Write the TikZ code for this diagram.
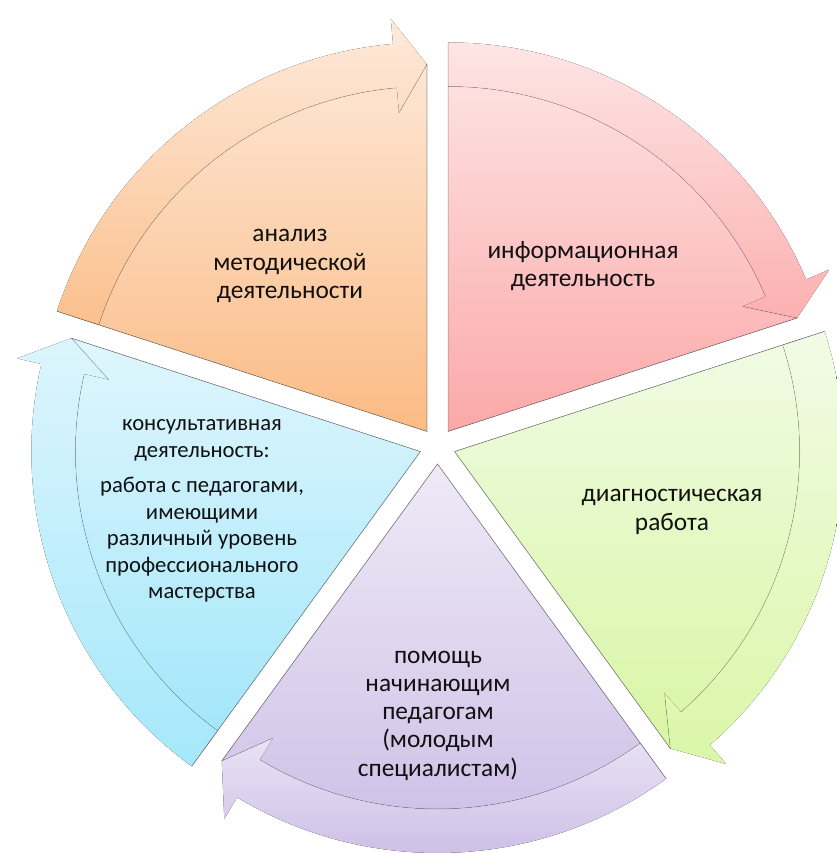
\documentclass[tikz,border=0pt]{standalone}
\usepackage{fontspec}
\setmainfont{Carlito}
\usetikzlibrary{calc}
\definecolor{orT}{HTML}{FDE6D4}\definecolor{orB}{HTML}{FBBB84}
\definecolor{orBT}{HTML}{FEEADB}\definecolor{orBB}{HTML}{FBC08D}
\definecolor{piT}{HTML}{FEE3E3}\definecolor{piB}{HTML}{FBA8A8}
\definecolor{piBT}{HTML}{FEE5E5}\definecolor{piBB}{HTML}{FCB0B0}
\definecolor{grT}{HTML}{F1FBE4}\definecolor{grB}{HTML}{D8F6A4}
\definecolor{grBT}{HTML}{F2FBE6}\definecolor{grBB}{HTML}{DAF7A8}
\definecolor{puT}{HTML}{EEEAF6}\definecolor{puB}{HTML}{CDBDE6}
\definecolor{puBT}{HTML}{E9E3F5}\definecolor{puBB}{HTML}{C9B8E3}
\definecolor{blT}{HTML}{E0F6FD}\definecolor{blB}{HTML}{A0E6FA}
\definecolor{blBT}{HTML}{DDF5FD}\definecolor{blBB}{HTML}{A5E8FB}
\definecolor{txt}{HTML}{111111}
\tikzset{
  edgeline/.style={draw=black!70, line width=0.5pt, opacity=0.55},
  innerline/.style={draw=black, line width=0.6pt, opacity=0.12},
  lbl/.style={align=center, text=txt, font=\fontsize{19}{21.2}\selectfont, inner sep=0pt},
  lblsmall/.style={align=center, text=txt, font=\fontsize{17}{19.9}\selectfont, inner sep=0pt}
}
\begin{document}
\begin{tikzpicture}[x=0.75pt,y=0.75pt]
\useasboundingbox (0,0) rectangle (837,854);
\coordinate (C) at (437.5,408);
\foreach \a/\tc/\bc/\btc/\bbc/\nm in {162/orT/orB/orBT/orBB/or, 90/piT/piB/piBT/piBB/pi, 18/grT/grB/grBT/grBB/gr, -54/puT/puB/puBT/puBB/pu, -126/blT/blB/blBT/blBB/bl} {
  \pgfmathsetmacro\b{\a-72}
  \pgfmathsetmacro\m{\a-36}
  \pgfmathsetmacro\h{\b+5}
  \coordinate (P\nm) at ($(C)+(\m:18)$);
  % body
  \fill[top color=\tc, bottom color=\bc] (P\nm) -- ($(P\nm)+(\a:367)$) arc[start angle=\a, end angle=\b, radius=367] -- cycle;
  % arrow band
  \fill[top color=\btc, bottom color=\bbc] ($(P\nm)+(\a:389)$) arc[start angle=\a, end angle=\h, radius=389] -- ($(P\nm)+(\h:414)$) -- ($(P\nm)+(\b:367)$) -- ($(P\nm)+(\h:320)$) -- ($(P\nm)+(\h:345)$) arc[start angle=\h, end angle=\a, radius=345] -- cycle;
  \draw[innerline] ($(P\nm)+(\h:345)$) arc[start angle=\h, end angle=\a, radius=345];
  \draw[innerline] ($(P\nm)+(\h:320)$) -- ($(P\nm)+(\b:367)$);
  % straight edges
  \draw[edgeline] ($(P\nm)+(\a:389)$) -- (P\nm) -- ($(P\nm)+(\b:367)$);
}
\node[lbl] (t1) at (290,588) {анализ\\методической\\деятельности};
\node[lbl] (t2) at (583,588) {информационная\\деятельность};
\node[lbl] (t3) at (672,342) {диагностическая\\работа};
\node[lbl] (t4) at (438,138.5) {помощь\\начинающим\\педагогам\\(молодым\\специалистам)};
\node[lblsmall] (t5) at (202,343) {консультативная\\деятельность:\\[6.5pt]работа с педагогами,\\имеющими\\различный уровень\\профессионального\\мастерства};
\end{tikzpicture}
\end{document}
